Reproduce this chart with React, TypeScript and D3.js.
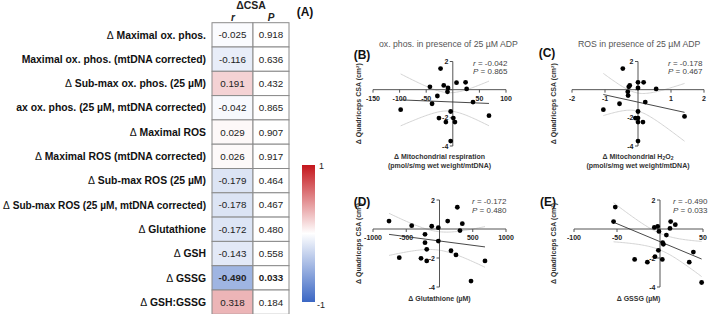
import React from "react";
import * as d3 from "d3";

// ---------- Table data (panel A) ----------
const rowLabels = [
  "Δ Maximal ox. phos.",
  "Maximal ox. phos. (mtDNA corrected)",
  "Δ Sub-max ox. phos. (25 µM)",
  "ax ox. phos. (25 µM, mtDNA corrected)",
  "Δ Maximal ROS",
  "Δ Maximal ROS (mtDNA corrected)",
  "Δ Sub-max ROS (25 µM)",
  "Δ Sub-max ROS (25 µM, mtDNA corrected)",
  "Δ Glutathione",
  "Δ GSH",
  "Δ GSSG",
  "Δ GSH:GSSG",
];
const rValues = [-0.025, -0.116, 0.191, -0.042, 0.029, 0.026, -0.179, -0.178, -0.172, -0.143, -0.49, 0.318];
const pValues = [0.918, 0.636, 0.432, 0.865, 0.907, 0.917, 0.464, 0.467, 0.48, 0.558, 0.033, 0.184];
const colorStops = [-1, 0, 1];

// ---------- Scatter data ----------
const bX = [-23, -43, -17, -9, -10, 7, 24, 26, -29, -39, -98, 38, -4, -26, -13, 1, 4, 68, -4];
const bY = [1.5, 0.2, 0.3, 0.12, -0.15, 0.5, 0.52, 0.05, -0.45, -1.0, -1.42, -0.88, -1.55, -2.02, -2.3, -2.02, -2.3, -1.85, -3.65];
const cX = [-0.46, -0.25, -0.28, 0, 0.17, 0, 0.55, -0.31, -0.3, 0.22, -0.56, -1.05, 0, -0.08, 0, 0, 0.15, 1.41, 0];
const cY = [1.5, 0.3, 0.2, 0.52, 0.52, 0.12, 0.05, -0.15, -0.42, -0.88, -1.0, -1.42, -1.55, -2.02, -2.02, -2.3, -2.3, -1.9, -3.65];
const dX = [-759, -418, -117, -18, 268, 123, 343, 308, -218, -218, -18, -192, 173, 248, -605, -278, -192, 684, 474];
const dY = [0.55, 0.23, 0.19, 0.09, 1.5, 0.55, 0.37, -0.11, -0.37, -0.94, -0.83, -1.4, -1.5, -1.79, -1.98, -2.02, -2.2, -2.2, -3.59];
const eX = [-52, -54, -6.6, -2.7, -1.2, 12.4, 17.8, 11.6, 7.4, 3.1, 3.9, -1.9, 38.8, -5.8, -29.5, -14.7, 2.7, 34, 48.4];
const eY = [1.51, 0.51, 0.11, 0.18, -0.17, 0.51, 0.3, 0.04, -0.42, -0.94, -1.05, -1.47, -1.59, -1.91, -2.1, -2.29, -2.1, -2.29, -3.69];

const bXTicks = [-150, -100, -50, 50, 100];
const cXTicks = [-2, -1, 1, 2];
const dXTicks = [-1000, -500, 500, 1000];
const eXTicks = [-100, -50, 50];
const yTicks = [2, -2, -4];

const statsR = ["-0.042", "-0.178", "-0.172", "-0.490"];
const statsP = ["0.865", "0.467", "0.480", "0.033"];

const T_CRIT = 2.11; // df = 17

function fit(xs: number[], ys: number[]) {
  const n = xs.length;
  const mx = d3.mean(xs)!;
  const my = d3.mean(ys)!;
  let sxx = 0, sxy = 0;
  xs.forEach((x, i) => { sxx += (x - mx) ** 2; sxy += (x - mx) * (ys[i] - my); });
  const slope = sxy / sxx;
  const icp = my - slope * mx;
  let sse = 0;
  xs.forEach((x, i) => { sse += (ys[i] - (icp + slope * x)) ** 2; });
  const s = Math.sqrt(sse / (n - 2));
  return { n, mx, sxx, slope, icp, s };
}

const FONT = "'Liberation Sans', Arial, Helvetica, sans-serif";

type PanelProps = {
  xs: number[]; ys: number[]; xDomain: [number, number]; xRange: [number, number];
  yRange: [number, number]; xTicks: number[]; letter: string; letterPos: [number, number];
  title?: React.ReactNode; titleX?: number; titleY?: number;
  xLabel: React.ReactNode[]; xLabelY: number; yLabelX: number;
  stat: number; statX: number;
};

function Panel(p: PanelProps) {
  const x = d3.scaleLinear().domain(p.xDomain).range(p.xRange);
  const y = d3.scaleLinear().domain([-4, 2]).range(p.yRange);
  const f = fit(p.xs, p.ys);
  const [xmin, xmax] = d3.extent(p.xs) as [number, number];
  const grid = d3.range(0, 61).map((i) => xmin + ((xmax - xmin) * i) / 60);
  const band = (sign: number) =>
    d3.line<number>()
      .x((v) => x(v))
      .y((v) => y(f.icp + f.slope * v + sign * T_CRIT * f.s * Math.sqrt(1 / f.n + (v - f.mx) ** 2 / f.sxx)))(grid)!;
  const x0 = x(0), y0 = y(0);
  const axisColor = "#555";
  const xc = (p.xRange[0] + p.xRange[1]) / 2;
  const yc = (p.yRange[0] + p.yRange[1]) / 2;
  return (
    <g fontFamily={FONT}>
      {p.title && (
        <text x={p.titleX} y={p.titleY} fontSize={8.7} fill="#555">{p.title}</text>
      )}
      <text x={p.letterPos[0]} y={p.letterPos[1]} fontSize={12} fontWeight="bold" textAnchor="middle" fill="#111">{p.letter}</text>
      {/* CI bands */}
      <path d={band(1)} fill="none" stroke="#cfcfcf" strokeWidth={0.9} />
      <path d={band(-1)} fill="none" stroke="#cfcfcf" strokeWidth={0.9} />
      {/* axes */}
      <line x1={p.xRange[0]} x2={p.xRange[1]} y1={y0} y2={y0} stroke={axisColor} strokeWidth={1} />
      <line x1={x0} x2={x0} y1={y(2)} y2={y(-4)} stroke={axisColor} strokeWidth={1} />
      {p.xTicks.map((t) => (
        <g key={t}>
          <line x1={x(t)} x2={x(t)} y1={y0} y2={y0 + 3} stroke={axisColor} />
          <text x={x(t)} y={y0 + 11} fontSize={7} fontWeight="bold" textAnchor="middle" fill="#222">{t}</text>
        </g>
      ))}
      {[2, 0, -2, -4].map((t) => (
        <line key={t} x1={x0 - 3} x2={x0} y1={y(t)} y2={y(t)} stroke={axisColor} />
      ))}
      {yTicks.map((t) => (
        <text key={t} x={x0 - 4.5} y={y(t) + 2.5} fontSize={7} fontWeight="bold" textAnchor="end" fill="#222">{t}</text>
      ))}
      {/* regression line */}
      <line x1={x(xmin)} x2={x(xmax)} y1={y(f.icp + f.slope * xmin)} y2={y(f.icp + f.slope * xmax)} stroke="#333" strokeWidth={0.9} />
      {p.xs.map((v, i) => (
        <circle key={i} cx={x(v)} cy={y(p.ys[i])} r={2.4} fill="#000" />
      ))}
      {/* stats */}
      <text x={p.statX} y={y(2) + 4} fontSize={8} fill="#444">
        <tspan fontStyle="italic">r</tspan> = {statsR[p.stat]}
      </text>
      <text x={p.statX} y={y(2) + 12.5} fontSize={8} fill="#444">
        <tspan fontStyle="italic">P</tspan> = {statsP[p.stat]}
      </text>
      {/* axis labels */}
      <text transform={`translate(${p.yLabelX},${yc}) rotate(-90)`} fontSize={7} fontWeight="bold" textAnchor="middle" fill="#333">
        Δ Quadriceps CSA (cm²)
      </text>
      {p.xLabel.map((l, i) => (
        <text key={i} x={xc} y={p.xLabelY + i * 9.5} fontSize={7} fontWeight="bold" textAnchor="middle" fill="#333">{l}</text>
      ))}
    </g>
  );
}

function Table() {
  const rows = d3.scaleBand<number>().domain(d3.range(rowLabels.length)).range([22.7, 314.3]);
  const color = d3.scaleLinear<string>().domain(colorStops).range(["#3b67c4", "#ffffff", "#c4161c"]);
  const rX0 = 212, rX1 = 253, pX1 = 289;
  const h = rows.bandwidth();
  return (
    <g fontFamily={FONT}>
      <text x={251} y={9} fontSize={10.5} fontWeight="bold" textAnchor="middle" fill="#222">ΔCSA</text>
      <text x={233} y={21} fontSize={10} fontWeight="bold" fontStyle="italic" textAnchor="middle" fill="#222">r</text>
      <text x={271} y={21} fontSize={10} fontWeight="bold" fontStyle="italic" textAnchor="middle" fill="#222">P</text>
      <text x={305} y={16} fontSize={12} fontWeight="bold" textAnchor="middle" fill="#111">(A)</text>
      {rowLabels.map((lab, i) => {
        const y0 = rows(i)!;
        const sig = pValues[i] < 0.05;
        const hasDelta = lab.startsWith("Δ");
        const long = lab.length >= 38;
        return (
          <g key={i}>
            <text x={206} y={y0 + h / 2 + 3.7} fontSize={long ? 10.1 : 10.4} fontWeight="bold" textAnchor="end" fill="#111">
              {hasDelta && <tspan fontWeight="normal">Δ</tspan>}
              {hasDelta ? lab.slice(1) : lab}
            </text>
            <rect x={rX0} y={y0} width={rX1 - rX0} height={h} fill={color(rValues[i])} stroke="#8a8a8a" strokeWidth={1} />
            <rect x={rX1} y={y0} width={pX1 - rX1} height={h} fill="#fff" stroke="#8a8a8a" strokeWidth={1} />
            <text x={(rX0 + rX1) / 2} y={y0 + h / 2 + 3.5} fontSize={9.8} fontWeight={sig ? "bold" : "normal"} textAnchor="middle" fill="#222">
              {rValues[i].toFixed(3)}
            </text>
            <text x={(rX1 + pX1) / 2} y={y0 + h / 2 + 3.5} fontSize={9.8} fontWeight={sig ? "bold" : "normal"} textAnchor="middle" fill="#222">
              {pValues[i].toFixed(3)}
            </text>
          </g>
        );
      })}
      <defs>
        <linearGradient id="cbar" x1="0" y1="0" x2="0" y2="1">
          {colorStops.slice().reverse().map((s, i) => (
            <stop key={i} offset={`${i * 50}%`} stopColor={color(s)} />
          ))}
        </linearGradient>
      </defs>
      <rect x={302} y={165} width={13} height={137} fill="url(#cbar)" />
      <text x={319} y={169} fontSize={9} fill="#222">1</text>
      <text x={317} y={308} fontSize={9} fill="#222">-1</text>
    </g>
  );
}

export default function App() {
  const sub = (s: string) => <tspan fontSize={5} dy={1.5}>{s}</tspan>;
  return (
    <div style={{ position: "absolute", left: 0, top: 0 }}>
      <svg width={709} height={314} style={{ display: "block", background: "#fff" }}>
        <rect width={709} height={314} fill="#fff" />
        <Table />
        <Panel xs={bX} ys={bY} xDomain={[-150, 100]} xRange={[373, 506]} yRange={[146, 61.5]} xTicks={bXTicks}
          letter="(B)" letterPos={[362, 59]} title="ox. phos. in presence of 25 µM ADP" titleX={379} titleY={47}
          xLabel={["Δ Mitochondrial respiration", "(pmol/s/mg wet weight/mtDNA)"]} xLabelY={158.5} yLabelX={360.5}
          stat={0} statX={473} />
        <Panel xs={cX} ys={cY} xDomain={[-2, 2]} xRange={[572, 704]} yRange={[146, 61.5]} xTicks={cXTicks}
          letter="(C)" letterPos={[547, 57]} title="ROS in presence of 25 µM ADP" titleX={578} titleY={47}
          xLabel={[<>Δ Mitochondrial H{sub("2")}<tspan dy={-1.5}>O</tspan>{sub("2")}</>, "(pmol/s/mg wet weight/mtDNA)"]} xLabelY={158.5} yLabelX={555.5}
          stat={1} statX={668} />
        <Panel xs={dX} ys={dY} xDomain={[-1000, 1000]} xRange={[373, 506]} yRange={[287, 200]} xTicks={dXTicks}
          letter="(D)" letterPos={[362, 206]}
          xLabel={["Δ Glutathione (µM)"]} xLabelY={300.5} yLabelX={360.5}
          stat={2} statX={472} />
        <Panel xs={eX} ys={eY} xDomain={[-100, 50]} xRange={[574, 703]} yRange={[287, 200]} xTicks={eXTicks}
          letter="(E)" letterPos={[548, 206]}
          xLabel={["Δ GSSG (µM)"]} xLabelY={300.5} yLabelX={555.5}
          stat={3} statX={673} />
      </svg>
    </div>
  );
}
